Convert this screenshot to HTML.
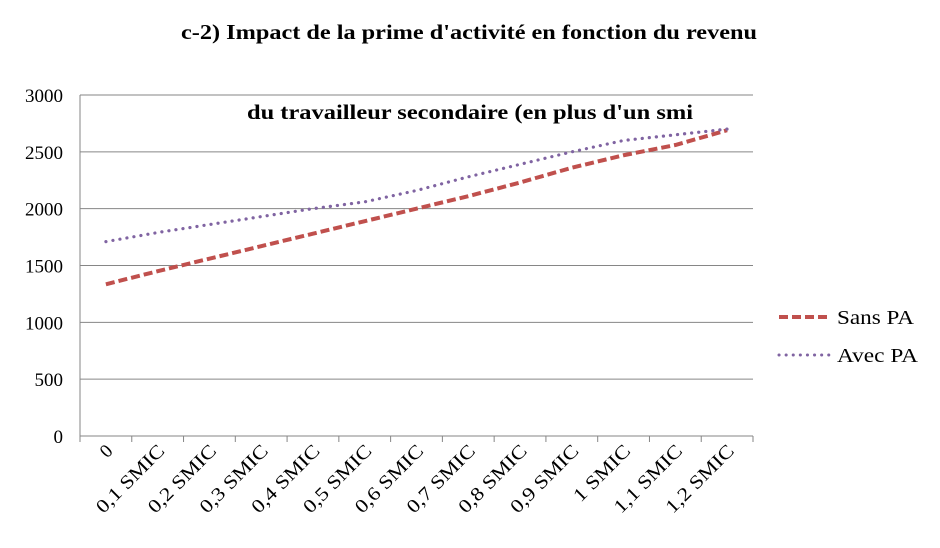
<!DOCTYPE html>
<html><head><meta charset="utf-8"><style>
body{margin:0;background:#fff;}
svg text{font-family:"Liberation Serif",serif;fill:#000;}
</style></head><body>
<svg width="940" height="543" xmlns="http://www.w3.org/2000/svg">
<text x="181" y="39" font-size="21" font-weight="bold" textLength="576" lengthAdjust="spacingAndGlyphs">c-2) Impact de la prime d'activité en fonction du revenu</text>
<g id="grid"></g>
<g id="axes"></g>
<text x="247" y="119" font-size="21" font-weight="bold" textLength="446" lengthAdjust="spacingAndGlyphs">du travailleur secondaire (en plus d'un smi</text>
<g id="series"></g>
<g>
<line x1="779" y1="317" x2="830" y2="317" stroke="#C0504D" stroke-width="4" stroke-dasharray="9,4"/>
<text x="837" y="324" font-size="20" textLength="77" lengthAdjust="spacingAndGlyphs">Sans PA</text>
<line x1="779" y1="355" x2="830" y2="355" stroke="#8064A2" stroke-width="3" stroke-dasharray="0.1,7" stroke-linecap="round"/>
<text x="837" y="362" font-size="20" textLength="81" lengthAdjust="spacingAndGlyphs">Avec PA</text>
</g>
</svg>
<script>
const categories=["0","0,1 SMIC","0,2 SMIC","0,3 SMIC","0,4 SMIC","0,5 SMIC","0,6 SMIC","0,7 SMIC","0,8 SMIC","0,9 SMIC","1 SMIC","1,1 SMIC","1,2 SMIC"];
const sansPA=[1335,1450,1560,1670,1780,1890,2000,2110,2230,2360,2470,2560,2690];
const avecPA=[1710,1790,1860,1930,2000,2060,2160,2280,2390,2500,2600,2650,2700];
const yTicks=[0,500,1000,1500,2000,2500,3000];
const NS="http://www.w3.org/2000/svg";
const X0=80,X1=753,Y0=436,Y1=95,YMAX=3000;
const bw=(X1-X0)/categories.length;
function xs(i){return X0+bw*(i+0.5);}
function ys(v){return Y0-(v/YMAX)*(Y0-Y1);}
function mk(tag,attrs,parent){const e=document.createElementNS(NS,tag);for(const k in attrs)e.setAttribute(k,attrs[k]);parent.appendChild(e);return e;}
const grid=document.getElementById('grid'),axes=document.getElementById('axes'),ser=document.getElementById('series');
yTicks.forEach(v=>{
  if(v>0){const l=mk('line',{x1:X0,x2:X1,y1:ys(v),y2:ys(v),stroke:'#868686','stroke-width':1},grid);
  
  }
  const t=mk('text',{x:63,y:ys(v)+7,'text-anchor':'end','font-size':19},axes);
  t.textContent=v;
  
  
});
const ax=mk('line',{x1:X0,x2:X1,y1:Y0,y2:Y0,stroke:'#868686','stroke-width':1},axes);


const ay=mk('line',{x1:X0,x2:X0,y1:Y1,y2:Y0,stroke:'#868686','stroke-width':1},axes);


for(let i=0;i<=categories.length;i++){
  const tx=X0+bw*i;
  const tk=mk('line',{x1:tx,x2:tx,y1:Y0,y2:Y0+6,stroke:'#868686'},axes);
  
  
}
categories.forEach((c,i)=>{
  const x=xs(i)+8,y=452;
  const attrs={x:x,y:y,'text-anchor':'end','font-size':19,transform:`rotate(-45 ${x} ${y})`};
  if(c.length>2){attrs.textLength=c.length===6?72:88;attrs.lengthAdjust='spacingAndGlyphs';}
  const t=mk('text',attrs,axes);
  t.textContent=c;
  
  
});
function line(vals,color,w,dash,cap,name){
  const p=mk('polyline',{points:vals.map((v,i)=>xs(i)+','+ys(v)).join(' '),fill:'none',stroke:color,'stroke-width':w,'stroke-dasharray':dash,'stroke-linecap':cap},ser);
  
  
}
line(sansPA,'#C0504D',4,'9,4','butt','series-sans-pa');
line(avecPA,'#8064A2',3.2,'0.1,7','round','series-avec-pa');
</script>
</body></html>
